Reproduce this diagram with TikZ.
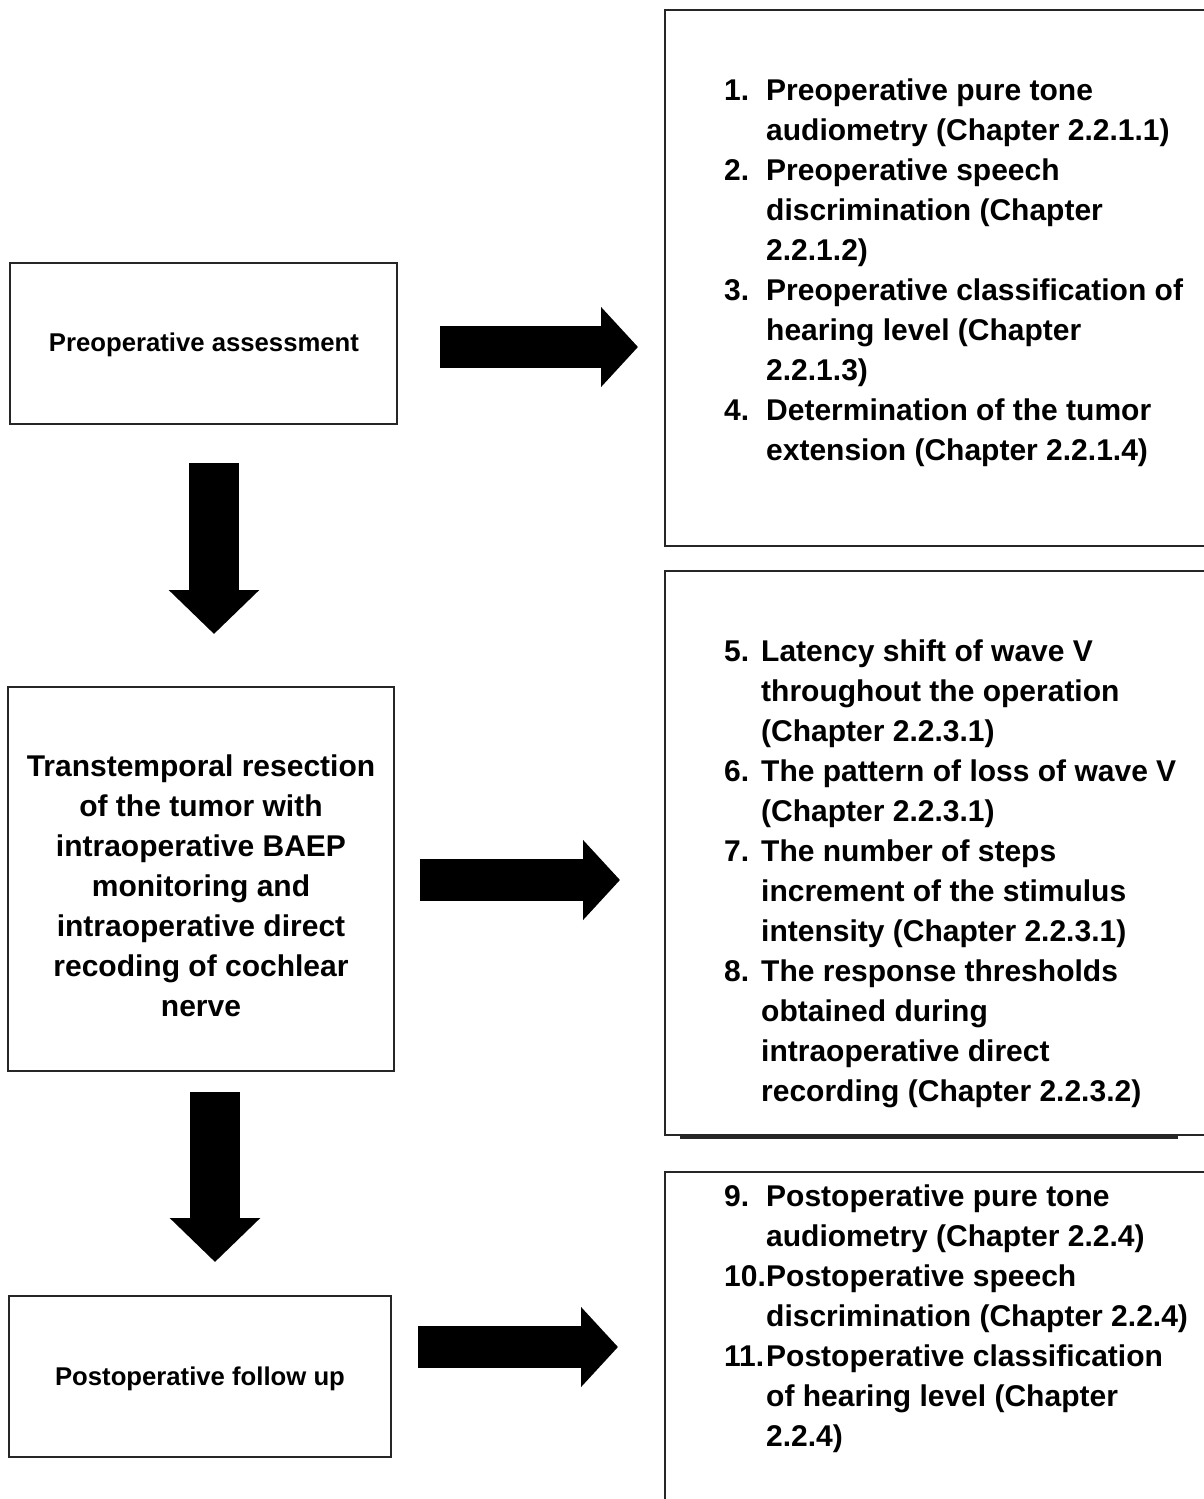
\documentclass[tikz,border=0pt]{standalone}
\usepackage{fontspec}
\setmainfont{Liberation Sans}
\usetikzlibrary{arrows.meta}
\tikzset{
  box/.style={draw=black!85, line width=1.8pt},
  txt/.style={inner sep=0pt, font=\fontsize{30}{40}\selectfont\bfseries, anchor=base west},
  ctxt/.style={inner sep=0pt, font=\fontsize{30}{40}\selectfont\bfseries, anchor=base},
  stxt/.style={inner sep=0pt, font=\fontsize{25.7}{30}\selectfont\bfseries, anchor=base},
  harrow/.style={line width=42pt, -{Triangle[length=37pt,width=78pt]}},
  varrow/.style={line width=50pt, -{Triangle[length=44pt,width=88pt]}},
}
\begin{document}
\begin{tikzpicture}[x=1pt,y=-1pt]
\useasboundingbox (0,0) rectangle (1204,1499);
\clip (0,0) rectangle (1204,1499);
\fill[white] (0,0) rectangle (1204,1499);

% left boxes
\draw[box] (10,263) rectangle (397,424);
\node[stxt] (L1t) at (204,351) {Preoperative assessment};

\draw[box] (8,687) rectangle (394,1071);
\node[ctxt] (M1) at (201,776) {Transtemporal resection};
\node[ctxt] (M2) at (201,816) {of the tumor with};
\node[ctxt] (M3) at (201,856) {intraoperative BAEP};
\node[ctxt] (M4) at (201,896) {monitoring and};
\node[ctxt] (M5) at (201,936) {intraoperative direct};
\node[ctxt] (M6) at (201,976) {recoding of cochlear};
\node[ctxt] (M7) at (201,1016) {nerve};

\draw[box] (9,1296) rectangle (391,1457);
\node[stxt] (L3t) at (200,1385) {Postoperative follow up};

% right boxes
\draw[box] (665,10) rectangle (1220,546);
\draw[box] (665,571) rectangle (1220,1135);
\draw[black!85, line width=2.4pt] (680,1137.5) -- (1178,1137.5);
\draw[box] (665,1172) rectangle (1220,1520);

% box 1 text
\node[txt] (n1) at (724,100) {1.};
\node[txt] (a1) at (766,100) {Preoperative pure tone};
\node[txt] (a2) at (766,140) {audiometry (Chapter 2.2.1.1)};
\node[txt] (n2) at (724,180) {2.};
\node[txt] (a3) at (766,180) {Preoperative speech};
\node[txt] (a4) at (766,220) {discrimination (Chapter};
\node[txt] (a5) at (766,260) {2.2.1.2)};
\node[txt] (n3) at (724,300) {3.};
\node[txt] (a6) at (766,300) {Preoperative classification of};
\node[txt] (a7) at (766,340) {hearing level (Chapter};
\node[txt] (a8) at (766,380) {2.2.1.3)};
\node[txt] (n4) at (724,420) {4.};
\node[txt] (a9) at (766,420) {Determination of the tumor};
\node[txt] (a10) at (766,460) {extension (Chapter 2.2.1.4)};

% box 2 text
\node[txt] (n5) at (724,661) {5.};
\node[txt] (b1) at (761,661) {Latency shift of wave V};
\node[txt] (b2) at (761,701) {throughout the operation};
\node[txt] (b3) at (761,741) {(Chapter 2.2.3.1)};
\node[txt] (n6) at (724,781) {6.};
\node[txt] (b4) at (761,781) {The pattern of loss of wave V};
\node[txt] (b5) at (761,821) {(Chapter 2.2.3.1)};
\node[txt] (n7) at (724,861) {7.};
\node[txt] (b6) at (761,861) {The number of steps};
\node[txt] (b7) at (761,901) {increment of the stimulus};
\node[txt] (b8) at (761,941) {intensity (Chapter 2.2.3.1)};
\node[txt] (n8) at (724,981) {8.};
\node[txt] (b9) at (761,981) {The response thresholds};
\node[txt] (b10) at (761,1021) {obtained during};
\node[txt] (b11) at (761,1061) {intraoperative direct};
\node[txt] (b12) at (761,1101) {recording (Chapter 2.2.3.2)};

% box 3 text
\node[txt] (n9) at (724,1206) {9.};
\node[txt] (c1) at (766,1206) {Postoperative pure tone};
\node[txt] (c2) at (766,1246) {audiometry (Chapter 2.2.4)};
\node[txt] (n10) at (724,1286) {10.};
\node[txt] (c3) at (766,1286) {Postoperative speech};
\node[txt] (c4) at (766,1326) {discrimination (Chapter 2.2.4)};
\node[txt] (n11) at (724,1366) {11.};
\node[txt] (c5) at (766,1366) {Postoperative classification};
\node[txt] (c6) at (766,1406) {of hearing level (Chapter};
\node[txt] (c7) at (766,1446) {2.2.4)};

% arrows
\coordinate (r1s) at (440,347);
\coordinate (r1e) at (638,347);
\coordinate (r2s) at (420,880);
\coordinate (r2e) at (620,880);
\coordinate (r3s) at (418,1347);
\coordinate (r3e) at (618,1347);
\coordinate (d1s) at (214,463);
\coordinate (d1e) at (214,634);
\coordinate (d2s) at (215,1092);
\coordinate (d2e) at (215,1262);
\draw[harrow] (r1s) -- (r1e);
\draw[harrow] (r2s) -- (r2e);
\draw[harrow] (r3s) -- (r3e);
\draw[varrow] (d1s) -- (d1e);
\draw[varrow] (d2s) -- (d2e);
\end{tikzpicture}
\end{document}
